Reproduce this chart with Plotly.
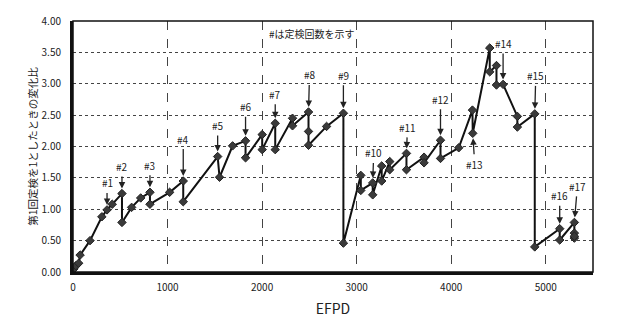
import plotly.graph_objects as go

# EFPD vs. ratio relative to the 1st periodic inspection
efpd = [10, 30, 60, 75, 180, 305, 360, 415, 518, 518, 620, 716, 814, 814,
        1022, 1166, 1166, 1530, 1550, 1688, 1825, 1825, 2001, 2001, 2139, 2139,
        2322, 2322, 2491, 2491, 2491, 2682, 2860, 2860, 3044, 3044, 3170, 3170,
        3265, 3265, 3350, 3350, 3527, 3527, 3713, 3713, 3887, 3887, 4080, 4225,
        4228, 4408, 4408, 4479, 4479, 4549, 4700, 4700, 4884, 4884, 5148, 5148,
        5303, 5303, 5303, 5303]
ratio = [0.05, 0.10, 0.14, 0.27, 0.50, 0.88, 0.99, 1.08, 1.25, 0.79, 1.03, 1.18, 1.27, 1.08,
         1.27, 1.45, 1.12, 1.84, 1.51, 2.01, 2.09, 1.82, 2.19, 1.95, 2.37, 1.95,
         2.45, 2.33, 2.55, 2.24, 2.02, 2.32, 2.53, 0.46, 1.54, 1.30, 1.42, 1.23,
         1.69, 1.45, 1.76, 1.63, 1.89, 1.63, 1.83, 1.74, 2.10, 1.81, 1.98, 2.58,
         2.21, 3.57, 3.19, 3.29, 2.98, 2.99, 2.48, 2.31, 2.52, 0.40, 0.69, 0.51,
         0.79, 0.54, 0.62, 0.57]

# inspection markers: label, x, y, vertical offset of label (px), horizontal offset
insp_labels = ["#1", "#2", "#3", "#4", "#5", "#6", "#7", "#8", "#9", "#10",
               "#11", "#12", "#13", "#14", "#15", "#16", "#17"]
insp_x = [360, 518, 814, 1166, 1530, 1825, 2139, 2491, 2860, 3170,
          3527, 3887, 4228, 4549, 4884, 5148, 5303]
insp_y = [0.99, 1.25, 1.27, 1.45, 1.84, 2.09, 2.37, 2.55, 2.53, 1.42,
          1.89, 2.10, 2.21, 2.99, 2.52, 0.69, 0.79]
insp_ay = [-27, -27, -27, -42, -31, -34, -29, -37, -38, -30,
           -26, -41, 31, -41, -38, -33, -36]
insp_ax = [0, 0, 0, 0, 0, 0, 0, 1, 0, 1, 1, 0, 2, 0, 1, 0, 3]

font_jp = "Noto Sans CJK JP"

fig = go.Figure()
fig.add_trace(go.Scatter(
    x=efpd, y=ratio, mode="lines+markers",
    line=dict(color="#111111", width=2),
    marker=dict(symbol="diamond", size=6.5, color="#3a3a3a",
                line=dict(color="#222222", width=1)),
    showlegend=False, hoverinfo="x+y"))

for lab, x, y, ay, ax in zip(insp_labels, insp_x, insp_y, insp_ay, insp_ax):
    fig.add_annotation(
        x=x, y=y, xref="x", yref="y", text=lab, showarrow=True,
        ax=ax, ay=ay, arrowhead=2, arrowsize=1.0, arrowwidth=1.3,
        arrowcolor="#222222", standoff=5, startstandoff=1,
        font=dict(family=font_jp, size=10, color="#222222"))

fig.add_annotation(
    x=2523, y=3.80, xref="x", yref="y", text="#は定検回数を示す",
    showarrow=False, font=dict(family=font_jp, size=10, color="#222222"))

# frame around the plot area
fig.add_shape(type="rect", xref="paper", yref="paper", x0=0, y0=0, x1=1, y1=1,
              line=dict(color="#111111", width=1.5), layer="above")

fig.update_layout(
    width=620, height=333,
    margin=dict(l=73, r=27, t=16, b=61),
    paper_bgcolor="white", plot_bgcolor="white",
    font=dict(family=font_jp, size=10, color="#222222"),
    xaxis=dict(
        range=[0, 5500], tickvals=[0, 1000, 2000, 3000, 4000, 5000],
        ticktext=["0", "1000", "2000", "3000", "4000", "5000"],
        showgrid=True, gridcolor="#444444", griddash="dash", gridwidth=1.3,
        zeroline=False, showline=True, linecolor="#111111", linewidth=3,
        ticks="", ticklabelstandoff=4,
        title=dict(text="EFPD", font=dict(family=font_jp, size=14), standoff=12)),
    yaxis=dict(
        range=[0, 4], tickvals=[0, 0.5, 1, 1.5, 2, 2.5, 3, 3.5, 4],
        tickformat=".2f",
        showgrid=True, gridcolor="#444444", griddash="dot", gridwidth=1.3,
        zeroline=False, showline=True, linecolor="#111111", linewidth=3,
        ticks="", ticklabelstandoff=7,
        title=dict(text="第1回定検を1としたときの変化比",
                   font=dict(family=font_jp, size=10.5), standoff=2)),
)

fig.write_html("out.html")
